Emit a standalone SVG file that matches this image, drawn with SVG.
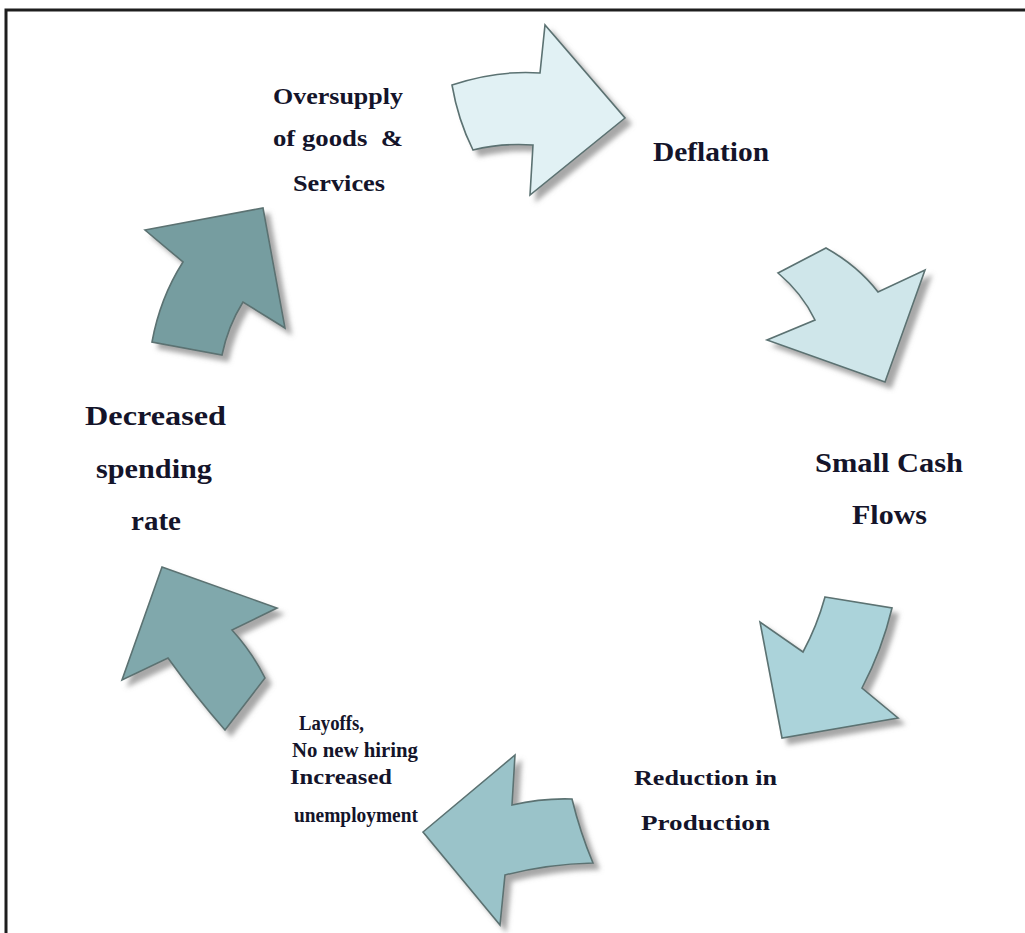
<svg xmlns="http://www.w3.org/2000/svg" width="1025" height="933" viewBox="0 0 1025 933">
  <style>
    .arrow { stroke: #5b7272; stroke-width: 1.6; stroke-linejoin: miter; filter: url(#shadow); }
    .lbl { font-family: "Liberation Serif", "Times New Roman", serif; font-weight: bold; fill: #14142a; }
    .s19 { font-size: 20px; }
    .s21 { font-size: 22px; }
    .s22 { font-size: 23px; }
    .s27 { font-size: 28px; }
  </style>
  <defs>
    <filter id="shadow" x="-20%" y="-20%" width="150%" height="150%">
      <feGaussianBlur in="SourceAlpha" stdDeviation="2.5" result="b"/>
      <feOffset in="b" dx="6" dy="6" result="o"/>
      <feFlood flood-color="#8a8a8a" flood-opacity="0.75"/>
      <feComposite in2="o" operator="in" result="s"/>
      <feMerge>
        <feMergeNode in="s"/>
        <feMergeNode in="SourceGraphic"/>
      </feMerge>
    </filter>
  </defs>

  <rect width="1025" height="933" fill="#ffffff"/>
  <!-- frame: only top and left edges fall inside the view -->
  <path d="M6,933 V10 H1025" fill="none" stroke="#1e1e1e" stroke-width="3"/>

  <g id="connectors">
    <path id="arrow-1" class="arrow" fill="#e1f1f4" d="M452,85 Q497,70 540,73 L545,25 L625,118 L530,195 L533,145 Q500,143 473,150 Q458,120 452,85 Z"/>
    <path id="arrow-2" class="arrow" fill="#cfe6ea" d="M778,273 L826,248 Q858,266 878,292 L925,270 L885,382 L767,340 L815,320 Q802,293 778,273 Z"/>
    <path id="arrow-3" class="arrow" fill="#abd3da" d="M825,597 L892,608 Q882,650 862,688 L898,718 L782,738 L760,622 L803,652 Q817,626 825,597 Z"/>
    <path id="arrow-4" class="arrow" fill="#9ac3c9" d="M515,755 L512,805 Q542,798 572,799 Q580,832 593,863 Q548,864 505,875 L500,925 L423,832 Z"/>
    <path id="arrow-5" class="arrow" fill="#80a8ac" d="M162,567 L277,608 L232,630 Q252,652 265,678 L225,730 Q196,697 168,658 L122,680 Z"/>
    <path id="arrow-6" class="arrow" fill="#769da0" d="M145,230 L263,208 L285,328 L243,302 Q228,326 222,355 L152,342 Q160,298 183,262 Z"/>
  </g>

  <g id="node-oversupply">
    <text class="lbl s22" x="273" y="104" textLength="130" lengthAdjust="spacingAndGlyphs">Oversupply</text>
    <text class="lbl s22" x="273" y="146" textLength="130" lengthAdjust="spacingAndGlyphs" xml:space="preserve">of goods  &amp;</text>
    <text class="lbl s22" x="293" y="191" textLength="92" lengthAdjust="spacingAndGlyphs">Services</text>
  </g>
  <g id="node-deflation">
    <text class="lbl s27" x="653" y="161" textLength="116" lengthAdjust="spacingAndGlyphs">Deflation</text>
  </g>
  <g id="node-cash">
    <text class="lbl s27" x="815" y="472" textLength="148" lengthAdjust="spacingAndGlyphs">Small Cash</text>
    <text class="lbl s27" x="852" y="524" textLength="75" lengthAdjust="spacingAndGlyphs">Flows</text>
  </g>
  <g id="node-production">
    <text class="lbl s21" x="634" y="785" textLength="143" lengthAdjust="spacingAndGlyphs">Reduction in</text>
    <text class="lbl s21" x="641" y="830" textLength="129" lengthAdjust="spacingAndGlyphs">Production</text>
  </g>
  <g id="node-layoffs">
    <text class="lbl s19" x="299" y="730" textLength="65" lengthAdjust="spacingAndGlyphs">Layoffs,</text>
    <text class="lbl s19" x="292" y="757" textLength="126" lengthAdjust="spacingAndGlyphs">No new hiring</text>
    <text class="lbl s19" x="290" y="784" textLength="102" lengthAdjust="spacingAndGlyphs">Increased</text>
    <text class="lbl s19" x="294" y="822" textLength="124" lengthAdjust="spacingAndGlyphs">unemployment</text>
  </g>
  <g id="node-spending">
    <text class="lbl s27" x="85" y="425" textLength="141" lengthAdjust="spacingAndGlyphs">Decreased</text>
    <text class="lbl s27" x="96" y="478" textLength="116" lengthAdjust="spacingAndGlyphs">spending</text>
    <text class="lbl s27" x="131" y="530" textLength="50" lengthAdjust="spacingAndGlyphs">rate</text>
  </g>
</svg>
